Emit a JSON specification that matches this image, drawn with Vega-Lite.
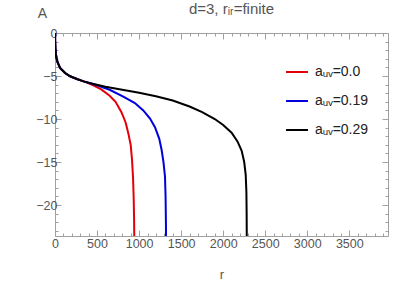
{
  "$schema": "https://vega.github.io/schema/vega-lite/v6.json",
  "width": 333,
  "height": 203,
  "autosize": "none",
  "padding": {"left": 55, "top": 33, "right": 19, "bottom": 49},
  "title": {"text": "d=3, rᵢᵣ=finite", "fontSize": 15, "fontWeight": "normal", "color": "#555555", "font": "Liberation Sans", "offset": -11, "dx": 10},
  "data": {"values": [
    {"a": "0.0", "r": 0.3, "A": 0.0}, {"a": "0.0", "r": 2, "A": -1.0}, {"a": "0.0", "r": 5, "A": -1.8}, {"a": "0.0", "r": 10, "A": -2.4}, {"a": "0.0", "r": 18, "A": -2.9}, {"a": "0.0", "r": 30, "A": -3.4}, {"a": "0.0", "r": 60, "A": -4.05}, {"a": "0.0", "r": 120, "A": -4.65}, {"a": "0.0", "r": 180, "A": -5.03}, {"a": "0.0", "r": 260, "A": -5.35}, {"a": "0.0", "r": 340, "A": -5.62},
    {"a": "0.0", "r": 380, "A": -5.75}, {"a": "0.0", "r": 450, "A": -6.05}, {"a": "0.0", "r": 550, "A": -6.55}, {"a": "0.0", "r": 650, "A": -7.3}, {"a": "0.0", "r": 720, "A": -8.0}, {"a": "0.0", "r": 790, "A": -9.2}, {"a": "0.0", "r": 840, "A": -10.4}, {"a": "0.0", "r": 875, "A": -11.8}, {"a": "0.0", "r": 900, "A": -13.0}, {"a": "0.0", "r": 915, "A": -14.6}, {"a": "0.0", "r": 928, "A": -16.8}, {"a": "0.0", "r": 936, "A": -19.3}, {"a": "0.0", "r": 941, "A": -22}, {"a": "0.0", "r": 944, "A": -25},
    {"a": "0.19", "r": 0.3, "A": 0.0}, {"a": "0.19", "r": 2, "A": -1.0}, {"a": "0.19", "r": 5, "A": -1.8}, {"a": "0.19", "r": 10, "A": -2.4}, {"a": "0.19", "r": 18, "A": -2.9}, {"a": "0.19", "r": 30, "A": -3.4}, {"a": "0.19", "r": 60, "A": -4.05}, {"a": "0.19", "r": 120, "A": -4.65}, {"a": "0.19", "r": 180, "A": -5.03}, {"a": "0.19", "r": 260, "A": -5.35}, {"a": "0.19", "r": 340, "A": -5.62},
    {"a": "0.19", "r": 410, "A": -5.82}, {"a": "0.19", "r": 500, "A": -6.08}, {"a": "0.19", "r": 650, "A": -6.6}, {"a": "0.19", "r": 812, "A": -7.4}, {"a": "0.19", "r": 950, "A": -8.15}, {"a": "0.19", "r": 1050, "A": -9.0}, {"a": "0.19", "r": 1130, "A": -9.95}, {"a": "0.19", "r": 1189, "A": -10.95}, {"a": "0.19", "r": 1240, "A": -12.3}, {"a": "0.19", "r": 1268, "A": -13.6}, {"a": "0.19", "r": 1290, "A": -15.0}, {"a": "0.19", "r": 1308, "A": -16.7}, {"a": "0.19", "r": 1315, "A": -19}, {"a": "0.19", "r": 1319, "A": -22}, {"a": "0.19", "r": 1321, "A": -25},
    {"a": "0.29", "r": 0.3, "A": 0.0}, {"a": "0.29", "r": 2, "A": -1.0}, {"a": "0.29", "r": 5, "A": -1.8}, {"a": "0.29", "r": 10, "A": -2.4}, {"a": "0.29", "r": 18, "A": -2.9}, {"a": "0.29", "r": 30, "A": -3.4}, {"a": "0.29", "r": 60, "A": -4.05}, {"a": "0.29", "r": 120, "A": -4.65}, {"a": "0.29", "r": 180, "A": -5.03}, {"a": "0.29", "r": 260, "A": -5.35}, {"a": "0.29", "r": 340, "A": -5.62},
    {"a": "0.29", "r": 420, "A": -5.85}, {"a": "0.29", "r": 600, "A": -6.25}, {"a": "0.29", "r": 800, "A": -6.6}, {"a": "0.29", "r": 1000, "A": -6.95}, {"a": "0.29", "r": 1200, "A": -7.35}, {"a": "0.29", "r": 1400, "A": -7.85}, {"a": "0.29", "r": 1600, "A": -8.55}, {"a": "0.29", "r": 1750, "A": -9.2}, {"a": "0.29", "r": 1900, "A": -10.0}, {"a": "0.29", "r": 2000, "A": -10.7}, {"a": "0.29", "r": 2100, "A": -11.6}, {"a": "0.29", "r": 2170, "A": -12.6}, {"a": "0.29", "r": 2220, "A": -13.7}, {"a": "0.29", "r": 2250, "A": -15.0}, {"a": "0.29", "r": 2268, "A": -16.5}, {"a": "0.29", "r": 2276, "A": -18.5}, {"a": "0.29", "r": 2279, "A": -21}, {"a": "0.29", "r": 2281, "A": -25}
  ]},
  "layer": [
    {
      "mark": {"type": "line", "strokeWidth": 2, "clip": true},
      "encoding": {
        "x": {"field": "r", "type": "quantitative", "scale": {"domain": [0, 3960], "nice": false, "zero": false},
          "axis": {"orient": "bottom", "title": "r", "values": [0,100,200,300,400,500,600,700,800,900,1000,1100,1200,1300,1400,1500,1600,1700,1800,1900,2000,2100,2200,2300,2400,2500,2600,2700,2800,2900,3000,3100,3200,3300,3400,3500,3600,3700,3800,3900],
            "format": "d", "labelExpr": "datum.value % 500 === 0 ? datum.label : ''",
            "tickSize": {"condition": {"test": "datum.value % 500 === 0", "value": -6}, "value": -3},
            "labelPadding": 7, "titleY": 42, "titleBaseline": "alphabetic"}},
        "y": {"field": "A", "type": "quantitative", "scale": {"domain": [-23.6, 0], "nice": false, "zero": false},
          "axis": {"orient": "left", "title": "A", "values": [0,-1,-2,-3,-4,-5,-6,-7,-8,-9,-10,-11,-12,-13,-14,-15,-16,-17,-18,-19,-20,-21,-22,-23],
            "format": "d", "labelExpr": "datum.value % 5 === 0 ? replace(datum.label, '-', '−') : ''",
            "tickSize": {"condition": {"test": "datum.value % 5 === 0", "value": -6}, "value": -3},
            "labelPadding": 4, "titleAngle": 0, "titleX": -13, "titleY": -16, "titleAlign": "center", "titleBaseline": "alphabetic", "titleFontSize": 14}},
        "color": {"field": "a", "type": "nominal", "scale": {"domain": ["0.0", "0.19", "0.29"], "range": ["#e4000b", "#0000dd", "#000000"]},
          "legend": {"orient": "none", "legendX": 230, "legendY": 27, "title": null, "symbolType": "stroke", "symbolStrokeWidth": 2, "symbolSize": 480, "labelFontSize": 14, "labelFont": "Liberation Sans", "labelColor": "#222222", "rowPadding": 10, "labelOffset": 6, "labelExpr": "'aᵤᵥ=' + datum.label"}}
      }
    },
    {
      "mark": {"type": "line", "opacity": 0},
      "encoding": {
        "x": {"field": "r", "type": "quantitative", "scale": {"domain": [0, 3960], "nice": false, "zero": false},
          "axis": {"orient": "top", "title": null, "labels": false, "values": [0,100,200,300,400,500,600,700,800,900,1000,1100,1200,1300,1400,1500,1600,1700,1800,1900,2000,2100,2200,2300,2400,2500,2600,2700,2800,2900,3000,3100,3200,3300,3400,3500,3600,3700,3800,3900],
            "tickSize": {"condition": {"test": "datum.value % 500 === 0", "value": -6}, "value": -3}}},
        "y": {"field": "A", "type": "quantitative", "scale": {"domain": [-23.6, 0], "nice": false, "zero": false},
          "axis": {"orient": "right", "title": null, "labels": false, "values": [0,-1,-2,-3,-4,-5,-6,-7,-8,-9,-10,-11,-12,-13,-14,-15,-16,-17,-18,-19,-20,-21,-22,-23],
            "tickSize": {"condition": {"test": "datum.value % 5 === 0", "value": -6}, "value": -3}}},
        "detail": {"field": "a"}
      }
    }
  ],
  "resolve": {"axis": {"x": "independent", "y": "independent"}},
  "config": {
    "view": {"stroke": "#a0a0a0", "strokeWidth": 1},
    "axis": {"domain": false, "grid": false, "tickColor": "#a0a0a0", "tickWidth": 1, "labelFont": "Liberation Sans", "labelFontSize": 12.5, "labelColor": "#555555", "labelOverlap": false, "labelFlush": false, "titleFont": "Liberation Sans", "titleFontSize": 13, "titleFontWeight": "normal", "titleColor": "#555555"}
  }
}
